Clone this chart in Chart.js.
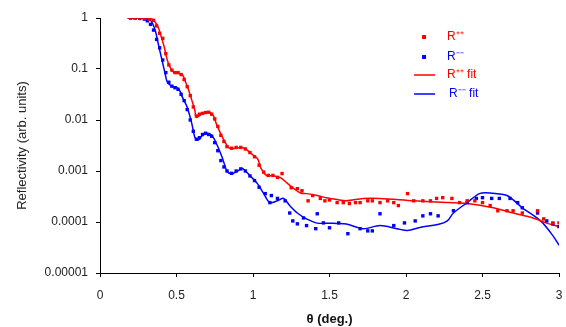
<!DOCTYPE html>
<html><head><meta charset="utf-8">
<script src="https://cdn.jsdelivr.net/npm/chart.js@4.4.1/dist/chart.umd.min.js"></script>
<style>html,body{margin:0;padding:0;background:#fff;overflow:hidden;}</style>
</head><body>
<canvas id="c" width="566" height="327"></canvas>
<script>
// ---- data (theta in degrees, reflectivity in arb. units) ----
const redPtsTheta = [0.20,0.23,0.26,0.29,0.32,0.35,0.37,0.39,0.41,0.43,0.45,0.47,0.49,0.51,0.53,0.55,0.57,0.59,0.61,0.63,0.65,0.67,0.69,0.71,0.73,0.75,0.77,0.79,0.81,0.83,0.86,0.89,0.92,0.95,0.98,1.01,1.04,1.07,1.10,1.13,1.16,1.19,1.25,1.29,1.32,1.36,1.39,1.44,1.47,1.50,1.55,1.59,1.63,1.67,1.70,1.75,1.78,1.83,1.88,1.92,1.95,2.01,2.05,2.11,2.16,2.20,2.24,2.30,2.35,2.40,2.45,2.50,2.55,2.60,2.66,2.70,2.76,2.86,2.90,2.96,3.00];
const redPtsR = [1.0,1.0,1.0,0.98,0.95,0.9,0.7,0.5,0.4,0.2,0.12,0.095,0.085,0.085,0.078,0.062,0.045,0.03,0.018,0.012,0.013,0.0135,0.014,0.0142,0.013,0.0105,0.0075,0.005,0.0038,0.003,0.0028,0.0029,0.0029,0.0027,0.0023,0.0019,0.0013,0.00095,0.00082,0.00082,0.00075,0.00089,0.00047,0.00045,0.00041,0.00026,0.00033,0.00029,0.00026,0.00027,0.00024,0.00024,0.00023,0.00024,0.00024,0.00026,0.00026,0.00024,0.00026,0.00024,0.00021,0.00036,0.00026,0.00026,0.00026,0.00029,0.0003,0.00029,0.00024,0.00026,0.00026,0.00024,0.00021,0.000166,0.000166,0.000166,0.00015,0.000166,0.000115,0.000096,0.000096];

const bluePtsTheta = [0.20,0.23,0.26,0.29,0.31,0.33,0.35,0.37,0.39,0.41,0.43,0.45,0.47,0.49,0.51,0.53,0.55,0.57,0.59,0.61,0.63,0.65,0.67,0.69,0.71,0.73,0.75,0.77,0.79,0.81,0.83,0.86,0.89,0.92,0.95,0.98,1.01,1.04,1.08,1.11,1.12,1.16,1.21,1.24,1.26,1.29,1.33,1.35,1.41,1.42,1.46,1.50,1.56,1.62,1.70,1.75,1.78,1.83,1.92,1.99,2.06,2.11,2.16,2.21,2.31,2.40,2.46,2.50,2.56,2.61,2.68,2.73,2.76,2.86,2.92,2.96,3.00];
const bluePtsR = [1.0,1.0,0.98,0.95,0.88,0.75,0.58,0.38,0.26,0.15,0.085,0.055,0.046,0.043,0.04,0.032,0.024,0.016,0.01,0.006,0.0042,0.0045,0.0052,0.0055,0.0052,0.0048,0.0036,0.0025,0.0016,0.0012,0.0010,0.0009,0.001,0.0011,0.001,0.0008,0.00065,0.00048,0.00036,0.00024,0.00033,0.00029,0.00026,0.00015,0.000105,0.000092,0.00012,0.000085,0.000074,0.000145,0.000096,0.000077,0.000096,0.000059,0.000074,0.000067,0.000067,0.000145,0.000085,0.000096,0.000105,0.000132,0.000145,0.000132,0.000166,0.00024,0.00029,0.0003,0.00029,0.00029,0.00029,0.00024,0.00019,0.00015,0.000105,0.000092,0.000081];

const redFitTheta = [0.18,0.31,0.35,0.38,0.40,0.42,0.44,0.46,0.48,0.51,0.54,0.56,0.58,0.60,0.62,0.63,0.67,0.72,0.74,0.76,0.80,0.84,0.87,0.92,0.95,0.98,1.03,1.05,1.09,1.13,1.18,1.22,1.26,1.31,1.35,1.42,1.48,1.55,1.61,1.72,1.83,2.05,2.27,2.40,2.57,2.70,2.83,2.92,3.00];
const redFitR = [1,1,0.91,0.66,0.43,0.27,0.148,0.105,0.087,0.083,0.076,0.055,0.038,0.0245,0.0155,0.0112,0.0135,0.0141,0.0123,0.0085,0.0046,0.0029,0.00275,0.0029,0.00275,0.0023,0.00174,0.00117,0.00081,0.00081,0.00074,0.00059,0.00047,0.00037,0.00036,0.00033,0.0003,0.000275,0.00026,0.00029,0.00029,0.00026,0.00024,0.00023,0.00019,0.00015,0.00012,0.000095,0.000081];

const blueFitTheta = [0.18,0.28,0.33,0.36,0.38,0.405,0.425,0.44,0.47,0.50,0.52,0.54,0.57,0.60,0.62,0.64,0.67,0.70,0.73,0.76,0.80,0.83,0.86,0.90,0.93,0.98,1.03,1.07,1.11,1.16,1.20,1.24,1.29,1.35,1.42,1.50,1.61,1.72,1.83,1.94,2.01,2.09,2.22,2.27,2.31,2.40,2.48,2.55,2.66,2.76,2.88,2.96,3.00];
const blueFitR = [1,1,0.9,0.58,0.32,0.15,0.083,0.055,0.046,0.044,0.038,0.0275,0.0178,0.0085,0.0046,0.004,0.005,0.0055,0.005,0.0035,0.0018,0.001,0.00089,0.001,0.00112,0.00081,0.00056,0.00036,0.00024,0.00026,0.00029,0.00021,0.00015,0.000115,0.000095,0.000095,0.000091,0.000074,0.000085,0.000074,0.000068,0.000078,0.000091,0.000105,0.00015,0.00024,0.00036,0.00037,0.00033,0.00019,0.000105,0.000054,0.000035];

const seriesLabels = ['R\u207A\u207A', 'R\u207B\u207B', 'R\u207A\u207A fit', 'R\u207B\u207B fit'];
const xTickValues = [0, 0.5, 1, 1.5, 2, 2.5, 3];
const xTickLabels = ['0', '0.5', '1', '1.5', '2', '2.5', '3'];
const yTickValues = [0.00001, 0.0001, 0.001, 0.01, 0.1, 1];
const yTickLabels = ['0.00001', '0.0001', '0.001', '0.01', '0.1', '1'];

const zip = (xs, ys) => xs.map((x, i) => ({x: x, y: ys[i]}));
const RED = '#ff0000', BLUE = '#0000ff';
const FONT = '"Liberation Sans", Arial, sans-serif';

const insideLegend = {
  id: 'insideLegend',
  afterDraw(chart) {
    const {ctx, chartArea: a} = chart;
    const mx = a.left + (a.right - a.left) * 0.706;
    const tx = mx + 23;
    const rows = [a.top + 19, a.top + 39, a.top + 57, a.top + 76];
    ctx.save();
    ctx.font = '12px ' + FONT;
    ctx.textBaseline = 'middle';
    chart.data.datasets.forEach((ds, i) => {
      const y = rows[i];
      ctx.fillStyle = ds.borderColor;
      ctx.strokeStyle = ds.borderColor;
      if (ds.showLine) {
        ctx.lineWidth = 1.5;
        ctx.beginPath(); ctx.moveTo(mx - 10, y); ctx.lineTo(mx + 11, y); ctx.stroke();
      } else {
        ctx.fillRect(mx - 2, y - 2, 4, 4);
      }
      ctx.fillText(ds.label, tx + (i === 3 ? 2 : 0), y);
    });
    ctx.restore();
  }
};

new Chart(document.getElementById('c'), {
  type: 'scatter',
  data: {
    datasets: [
      {label: seriesLabels[0], data: zip(redPtsTheta, redPtsR), showLine: false, pointStyle: 'rect', pointRadius: 2.4, backgroundColor: RED, borderColor: RED, borderWidth: 0},
      {label: seriesLabels[1], data: zip(bluePtsTheta, bluePtsR), showLine: false, pointStyle: 'rect', pointRadius: 2.4, backgroundColor: BLUE, borderColor: BLUE, borderWidth: 0},
      {label: seriesLabels[2], data: zip(redFitTheta, redFitR), showLine: true, pointRadius: 0, borderColor: RED, backgroundColor: RED, borderWidth: 1.5, tension: 0.3},
      {label: seriesLabels[3], data: zip(blueFitTheta, blueFitR), showLine: true, pointRadius: 0, borderColor: BLUE, backgroundColor: BLUE, borderWidth: 1.5, tension: 0.3}
    ]
  },
  options: {
    responsive: false,
    animation: false,
    devicePixelRatio: 1,
    layout: {padding: {top: 18, right: 7, left: 0, bottom: 0}},
    plugins: {legend: {display: false}, tooltip: {enabled: false}},
    scales: {
      x: {
        type: 'linear', min: 0, max: 3,
        afterBuildTicks: s => { s.ticks = xTickValues.map(v => ({value: v})); },
        afterFit: s => { s.height = 54; s.paddingLeft = 0; s.paddingRight = 0; },
        ticks: {padding: 11, color: '#222', maxRotation: 0, autoSkip: false, font: {family: FONT, size: 12},
          callback: (v, i) => xTickLabels[i]},
        grid: {drawOnChartArea: false, drawTicks: true, tickLength: 4, color: '#000'},
        border: {display: true, color: '#000', width: 1},
        title: {display: true, text: '\u03B8 (deg.)', color: '#111', font: {family: FONT, size: 13, weight: 'bold'}, padding: {top: 0, bottom: 0}}
      },
      y: {
        type: 'logarithmic', min: 0.00001, max: 1,
        afterBuildTicks: s => { s.ticks = yTickValues.map(v => ({value: v})); },
        afterFit: s => { s.width = 100; s.paddingTop = 0; s.paddingBottom = 0; },
        ticks: {padding: 8, color: '#222', autoSkip: false, font: {family: FONT, size: 12},
          callback: (v, i) => yTickLabels[i]},
        grid: {drawOnChartArea: false, drawTicks: true, tickLength: 4, color: '#000'},
        border: {display: true, color: '#000', width: 1},
        title: {display: true, text: 'Reflectivity (arb. units)', color: '#222', font: {family: FONT, size: 13}, padding: {top: 15, bottom: 0}}
      }
    }
  },
  plugins: [insideLegend]
});
</script>
</body></html>
